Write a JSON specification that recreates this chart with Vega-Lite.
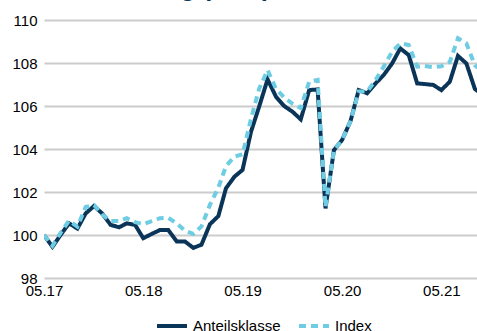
{
  "$schema": "https://vega.github.io/schema/vega-lite/v6.json",
  "width": 433,
  "height": 258,
  "autosize": {"type": "none"},
  "padding": {"left": 44, "top": 20, "right": 0, "bottom": 53},
  "background": "white",
  "title": {
    "text": "Wertentwicklung (in %)",
    "anchor": "start",
    "frame": "group",
    "font": "Liberation Sans",
    "fontSize": 25,
    "fontWeight": "bold",
    "color": "#0b3558",
    "baseline": "alphabetic",
    "offset": 0,
    "dx": -48,
    "dy": 8
  },
  "data": {
    "values": [
      {"date": "2017/05/01", "Anteilsklasse": 100.0, "Index": 100.0},
      {"date": "2017/06/01", "Anteilsklasse": 99.45, "Index": 99.5},
      {"date": "2017/07/01", "Anteilsklasse": 100.0, "Index": 100.1},
      {"date": "2017/08/01", "Anteilsklasse": 100.54, "Index": 100.67},
      {"date": "2017/09/01", "Anteilsklasse": 100.3, "Index": 100.39},
      {"date": "2017/10/01", "Anteilsklasse": 101.0, "Index": 101.3},
      {"date": "2017/11/01", "Anteilsklasse": 101.35, "Index": 101.4},
      {"date": "2017/12/01", "Anteilsklasse": 101.0, "Index": 100.95},
      {"date": "2018/01/01", "Anteilsklasse": 100.47, "Index": 100.65},
      {"date": "2018/02/01", "Anteilsklasse": 100.36, "Index": 100.65},
      {"date": "2018/03/01", "Anteilsklasse": 100.54, "Index": 100.78},
      {"date": "2018/04/01", "Anteilsklasse": 100.47, "Index": 100.6},
      {"date": "2018/05/01", "Anteilsklasse": 99.85, "Index": 100.5},
      {"date": "2018/06/01", "Anteilsklasse": 100.05, "Index": 100.65},
      {"date": "2018/07/01", "Anteilsklasse": 100.23, "Index": 100.78},
      {"date": "2018/08/01", "Anteilsklasse": 100.23, "Index": 100.8},
      {"date": "2018/09/01", "Anteilsklasse": 99.7, "Index": 100.54},
      {"date": "2018/10/01", "Anteilsklasse": 99.7, "Index": 100.2},
      {"date": "2018/11/01", "Anteilsklasse": 99.4, "Index": 100.05},
      {"date": "2018/12/01", "Anteilsklasse": 99.55, "Index": 100.4},
      {"date": "2019/01/01", "Anteilsklasse": 100.5, "Index": 101.4},
      {"date": "2019/02/01", "Anteilsklasse": 100.88, "Index": 102.2},
      {"date": "2019/03/01", "Anteilsklasse": 102.17, "Index": 103.2},
      {"date": "2019/04/01", "Anteilsklasse": 102.71, "Index": 103.65},
      {"date": "2019/05/01", "Anteilsklasse": 103.03, "Index": 103.75},
      {"date": "2019/06/01", "Anteilsklasse": 104.8, "Index": 105.4},
      {"date": "2019/07/01", "Anteilsklasse": 105.97, "Index": 106.8},
      {"date": "2019/08/01", "Anteilsklasse": 107.24, "Index": 107.67},
      {"date": "2019/09/01", "Anteilsklasse": 106.43, "Index": 106.8},
      {"date": "2019/10/01", "Anteilsklasse": 106.0, "Index": 106.4},
      {"date": "2019/11/01", "Anteilsklasse": 105.73, "Index": 106.1},
      {"date": "2019/12/01", "Anteilsklasse": 105.38, "Index": 105.9},
      {"date": "2020/01/01", "Anteilsklasse": 106.74, "Index": 107.13},
      {"date": "2020/02/01", "Anteilsklasse": 106.77, "Index": 107.21},
      {"date": "2020/03/01", "Anteilsklasse": 101.24, "Index": 101.3},
      {"date": "2020/04/01", "Anteilsklasse": 103.95, "Index": 103.95},
      {"date": "2020/05/01", "Anteilsklasse": 104.42, "Index": 104.42},
      {"date": "2020/06/01", "Anteilsklasse": 105.3, "Index": 105.3},
      {"date": "2020/07/01", "Anteilsklasse": 106.74, "Index": 106.67},
      {"date": "2020/08/01", "Anteilsklasse": 106.59, "Index": 106.67},
      {"date": "2020/09/01", "Anteilsklasse": 107.05, "Index": 107.21},
      {"date": "2020/10/01", "Anteilsklasse": 107.44, "Index": 107.83},
      {"date": "2020/11/01", "Anteilsklasse": 107.98, "Index": 108.53},
      {"date": "2020/12/01", "Anteilsklasse": 108.68, "Index": 108.91},
      {"date": "2021/01/01", "Anteilsklasse": 108.37, "Index": 108.84},
      {"date": "2021/02/01", "Anteilsklasse": 107.05, "Index": 107.83},
      {"date": "2021/03/01", "Anteilsklasse": 107.02, "Index": 107.86},
      {"date": "2021/04/01", "Anteilsklasse": 106.98, "Index": 107.8},
      {"date": "2021/05/01", "Anteilsklasse": 106.74, "Index": 107.85},
      {"date": "2021/06/01", "Anteilsklasse": 107.13, "Index": 108.05},
      {"date": "2021/07/01", "Anteilsklasse": 108.33, "Index": 109.15},
      {"date": "2021/08/01", "Anteilsklasse": 107.98, "Index": 108.91},
      {"date": "2021/09/01", "Anteilsklasse": 106.8, "Index": 107.9},
      {"date": "2021/10/01", "Anteilsklasse": 106.5, "Index": 107.6}
    ]
  },
  "transform": [
    {"fold": ["Anteilsklasse", "Index"], "as": ["Serie", "Wert"]}
  ],
  "mark": {"type": "line", "strokeWidth": 4, "clip": true, "strokeJoin": "miter"},
  "encoding": {
    "x": {
      "field": "date",
      "type": "temporal",
      "scale": {
        "domain": [
          {"year": 2017, "month": 5, "date": 1},
          {"year": 2021, "month": 9, "date": 9}
        ]
      },
      "axis": {
        "values": [
          {"year": 2017, "month": 5, "date": 1},
          {"year": 2018, "month": 5, "date": 1},
          {"year": 2019, "month": 5, "date": 1},
          {"year": 2020, "month": 5, "date": 1},
          {"year": 2021, "month": 5, "date": 1}
        ],
        "format": "%m.%y",
        "title": null,
        "grid": false,
        "domain": false,
        "ticks": false,
        "labelFlush": false,
        "labelPadding": 5,
        "labelFont": "Liberation Sans",
        "labelFontSize": 15,
        "labelColor": "#000000"
      }
    },
    "y": {
      "field": "Wert",
      "type": "quantitative",
      "scale": {"domain": [98, 110], "nice": false, "zero": false},
      "axis": {
        "values": [98, 100, 102, 104, 106, 108, 110],
        "title": null,
        "grid": true,
        "gridColor": "#cccccc",
        "gridWidth": 2,
        "domain": false,
        "ticks": false,
        "labelPadding": 7,
        "labelFont": "Liberation Sans",
        "labelFontSize": 15,
        "labelColor": "#000000"
      }
    },
    "color": {
      "field": "Serie",
      "type": "nominal",
      "scale": {"domain": ["Anteilsklasse", "Index"], "range": ["#0b3558", "#6fcde3"]},
      "legend": {
        "title": null,
        "orient": "none",
        "direction": "horizontal",
        "legendX": 111,
        "legendY": 289,
        "symbolType": "stroke",
        "symbolSize": 900,
        "symbolStrokeWidth": 4,
        "labelFont": "Liberation Sans",
        "labelFontSize": 15,
        "labelColor": "#000000",
        "columnPadding": 10
      }
    },
    "strokeDash": {
      "field": "Serie",
      "type": "nominal",
      "scale": {"domain": ["Anteilsklasse", "Index"], "range": [[1, 0], [7, 5]]},
      "legend": null
    }
  },
  "config": {
    "view": {"stroke": null}
  }
}
